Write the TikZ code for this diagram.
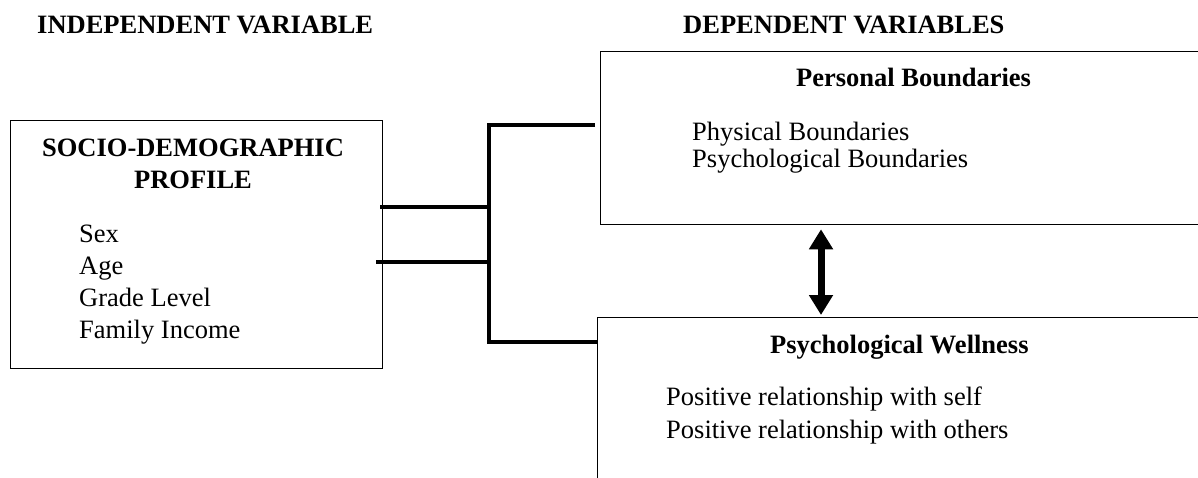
\documentclass[tikz,border=0pt]{standalone}
\usepackage{fontspec}
\setmainfont{Liberation Serif}
\usetikzlibrary{arrows.meta}
\begin{document}
\begin{tikzpicture}[x=1pt,y=-1pt,
  box/.style={draw,line width=1.3pt,rectangle,inner sep=0pt,anchor=north west},
  conn/.style={line width=4pt,line join=miter},
  txt/.style={inner sep=0pt,anchor=base west,font=\fontsize{26.5}{30}\selectfont},
  hd/.style={txt,font=\fontsize{26.5}{30}\selectfont\bfseries},
  hdc/.style={hd,anchor=base},
  dblarrow/.style={line width=7pt,{Triangle[width=23pt,length=20pt]}-{Triangle[width=23pt,length=20pt]}}]
\useasboundingbox (0,0) rectangle (1198,477);
\begin{scope}
\clip (0,0) rectangle (1198,477);
% headings
\node[hd] (iv) at (37,33) {INDEPENDENT VARIABLE};
\node[hd] (dv) at (683,33) {DEPENDENT VARIABLES};
% boxes
\node[box,minimum width=372pt,minimum height=248.5pt] (sdp) at (10,119.5) {};
\node[box,minimum width=640pt,minimum height=173.3pt] (pb) at (600,50.7) {};
\node[box,minimum width=640pt,minimum height=220pt] (pw) at (597,317) {};
% left box text
\node[hdc] (sdpt1) at (193,156) {SOCIO-DEMOGRAPHIC};
\node[hdc] (sdpt2) at (193,188) {PROFILE};
\node[txt] (sex) at (79,242) {Sex};
\node[txt] (age) at (79,274) {Age};
\node[txt] (grade) at (79,306.5) {Grade Level};
\node[txt] (inc) at (79,338) {Family Income};
% top right box text
\node[hd] (pbt) at (796,86) {Personal Boundaries};
\node[txt] (phys) at (692,140) {Physical Boundaries};
\node[txt] (psyb) at (692,167) {Psychological Boundaries};
% bottom right box text
\node[hd] (pwt) at (770,353) {Psychological Wellness};
\node[txt] (self) at (666,405) {Positive relationship with self};
\node[txt] (oth) at (666,438) {Positive relationship with others};
% connectors
\coordinate (a1) at (380,206.5);
\coordinate (a2) at (376,261.5);
\coordinate (stop) at (489,125);
\coordinate (sbot) at (489,342);
\coordinate (ptop) at (595,125);
\draw[conn] (a1) -- (a1 -| stop);
\draw[conn] (a2) -- (a2 -| stop);
\draw[conn] (ptop) -- (stop) -- (sbot) -- (sbot -| pw.west);
% double arrow
\coordinate (arrtop) at ([yshift=-4pt]pb.south -| 821,0);
\coordinate (arrbot) at ([yshift=2pt]pw.north -| 821,0);
\draw[dblarrow] (arrtop) -- (arrbot);
\end{scope}
\end{tikzpicture}
\end{document}
